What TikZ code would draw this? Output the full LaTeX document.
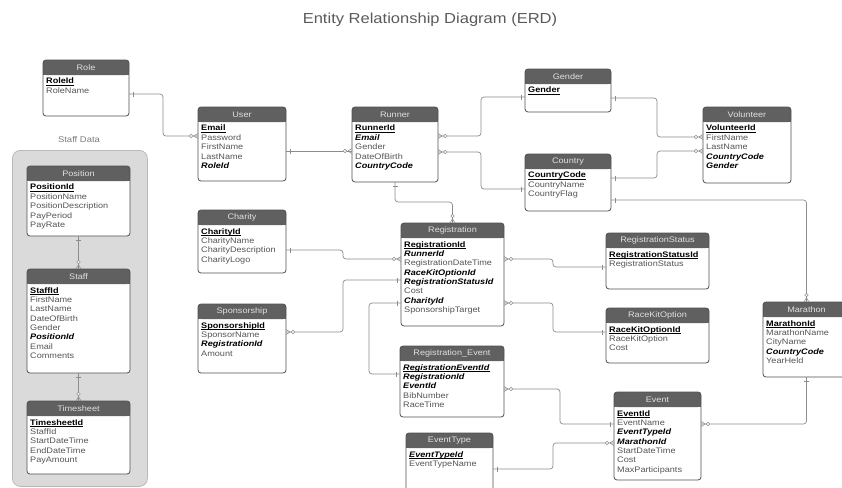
\documentclass[tikz,border=0pt]{standalone}
\usepackage{fontspec}
\setmainfont{Liberation Sans}[FakeStretch=1.14]
\usetikzlibrary{positioning}
\usetikzlibrary{calc}
\usetikzlibrary{decorations.markings}
\definecolor{hgray}{RGB}{96,96,96}
\definecolor{boxline}{RGB}{80,80,80}
\definecolor{rowtext}{RGB}{85,85,85}
\definecolor{headtxt}{RGB}{225,225,225}
\definecolor{lgray}{RGB}{140,140,140}
\definecolor{groupfill}{RGB}{218,218,218}
\definecolor{groupline}{RGB}{185,185,185}
\definecolor{titlegray}{RGB}{90,90,90}
\newsavebox{\keybox}
\newcommand{\keyline}[1]{\sbox{\keybox}{#1}\rlap{\rule[-1.6pt]{\wd\keybox}{0.6pt}}\usebox{\keybox}}
\newcommand{\pkey}[1]{{\color{black}\keyline{\textbf{#1}}}}
\newcommand{\fkey}[1]{{\color{black}\textbf{\textit{#1}}}}
\newcommand{\pfkey}[1]{{\color{black}\keyline{\textbf{\textit{#1}}}}}
\tikzset{
  entity/.style={anchor=north west, inner sep=0pt, outer sep=0pt, fill=white, rounded corners=3pt},
  headtext/.style={inner sep=0pt, text=headtxt, font=\fontsize{8}{9}\selectfont},
  attrs/.style={anchor=north west, inner sep=0pt, align=left, text=rowtext, font=\fontsize{8}{9.35}\selectfont},
  rel/.style={draw=lgray, line width=0.7pt, rounded corners=3pt},
  onebeg/.style={postaction={decorate, decoration={markings,
    mark=at position 4pt with {\draw[lgray, line width=0.7pt] (0pt,-2.5pt) -- (0pt,2.5pt);}}}},
  oneend/.style={postaction={decorate, decoration={markings,
    mark=at position -4pt with {\draw[lgray, line width=0.7pt] (0pt,-2.5pt) -- (0pt,2.5pt);}}}},
  manybeg/.style={postaction={decorate, decoration={markings,
    mark=at position 0.1pt with {\draw[lgray, line width=0.6pt] (4pt,0pt) -- (0pt,2.5pt) (4pt,0pt) -- (0pt,-2.5pt);},
    mark=at position 7pt with {\draw[lgray, line width=0.6pt, fill=white] (0pt,0pt) circle (1.8pt);}}}},
  manyend/.style={postaction={decorate, decoration={markings,
    mark=at position -0.1pt with {\draw[lgray, line width=0.6pt] (-4pt,0pt) -- (0pt,2.5pt) (-4pt,0pt) -- (0pt,-2.5pt);},
    mark=at position -7pt with {\draw[lgray, line width=0.6pt, fill=white] (0pt,0pt) circle (1.8pt);}}}},
}
% one table: name, x, y, width, height, title, rows
\newcommand{\erdentity}[7]{%
  \node[entity, minimum width=#4pt, minimum height=#5pt] (#1) at (#2,#3) {};
  \fill[hgray, rounded corners=3pt] (#1.north west) rectangle ([yshift=-15pt]#1.north east);
  \fill[hgray] ([yshift=-8pt]#1.north west) rectangle ([yshift=-15pt]#1.north east);
  \draw[boxline, line width=0.8pt, rounded corners=3pt] (#1.north west) rectangle (#1.south east);
  \node[headtext] (#1-head) at ([yshift=-7.5pt]#1.north) {#6};
  \node[attrs] (#1-attrs) at ([xshift=3pt,yshift=-18pt]#1.north west) {#7};
}

\begin{document}
\begin{tikzpicture}[x=1pt, y=-1pt,
    group/.style={draw=groupline, fill=groupfill, line width=0.8pt, rounded corners=8pt, anchor=north west, inner sep=0pt},
    grouplabel/.style={text=titlegray!80, font=\fontsize{8.3}{10}\selectfont},
]
\useasboundingbox (0,0) rectangle (842,487);

\node[text=titlegray, font=\fontsize{14.5}{17}\selectfont] (title) at (430,20) {Entity Relationship Diagram (ERD)};

% staff data group
\node[group, minimum width=135pt, minimum height=336pt] (staffdata) at (12,150) {};
\node[grouplabel] (staffdata-label) at (79,140) {Staff Data};

\erdentity{role}{43}{60}{86}{56}{Role}{\pkey{RoleId}\\RoleName}
\erdentity{user}{198}{107}{88}{74}{User}{\pkey{Email}\\Password\\FirstName\\LastName\\\fkey{RoleId}}
\erdentity{runner}{352}{107}{86}{75}{Runner}{\pkey{RunnerId}\\\fkey{Email}\\Gender\\DateOfBirth\\\fkey{CountryCode}}
\erdentity{gender}{525}{69}{86}{43}{Gender}{\pkey{Gender}}
\erdentity{country}{525}{154}{86}{57}{Country}{\pkey{CountryCode}\\CountryName\\CountryFlag}
\erdentity{volunteer}{703}{107}{88}{76}{Volunteer}{\pkey{VolunteerId}\\FirstName\\LastName\\\fkey{CountryCode}\\\fkey{Gender}}
\erdentity{position}{27}{166}{103}{70}{Position}{\pkey{PositionId}\\PositionName\\PositionDescription\\PayPeriod\\PayRate}
\erdentity{staff}{27}{269}{103}{104}{Staff}{\pkey{StaffId}\\FirstName\\LastName\\DateOfBirth\\Gender\\\fkey{PositionId}\\Email\\Comments}
\erdentity{timesheet}{27}{401}{103}{73}{Timesheet}{\pkey{TimesheetId}\\StaffId\\StartDateTime\\EndDateTime\\PayAmount}
\erdentity{charity}{198}{210}{88}{63}{Charity}{\pkey{CharityId}\\CharityName\\CharityDescription\\CharityLogo}
\erdentity{sponsorship}{198}{304}{88}{69}{Sponsorship}{\pkey{SponsorshipId}\\SponsorName\\\fkey{RegistrationId}\\Amount}
\erdentity{registration}{401}{223}{103}{103}{Registration}{\pkey{RegistrationId}\\\fkey{RunnerId}\\RegistrationDateTime\\\fkey{RaceKitOptionId}\\\fkey{RegistrationStatusId}\\Cost\\\fkey{CharityId}\\SponsorshipTarget}
\erdentity{regstatus}{606}{233}{103}{56}{RegistrationStatus}{\pkey{RegistrationStatusId}\\RegistrationStatus}
\erdentity{racekit}{606}{308}{103}{55}{RaceKitOption}{\pkey{RaceKitOptionId}\\RaceKitOption\\Cost}
\erdentity{regevent}{400}{346}{104}{71}{Registration\_Event}{\pfkey{RegistrationEventId}\\\fkey{RegistrationId}\\\fkey{EventId}\\BibNumber\\RaceTime}
\erdentity{event}{614}{392}{87}{88}{Event}{\pkey{EventId}\\EventName\\\fkey{EventTypeId}\\\fkey{MarathonId}\\StartDateTime\\Cost\\MaxParticipants}
\erdentity{eventtype}{406}{433}{87}{62}{EventType}{\pfkey{EventTypeId}\\EventTypeName}
\erdentity{marathon}{763}{302}{87}{75}{Marathon}{\pkey{MarathonId}\\MarathonName\\CityName\\\fkey{CountryCode}\\YearHeld}

% relationships
\draw[rel, onebeg, manyend] ([yshift=-34pt]role.north east) -- ++(34,0) |- ([yshift=-29pt]user.north west);
\draw[rel, onebeg, manyend] ([yshift=-44pt]user.north east) -- ([yshift=-44pt]runner.north west);
\draw[rel, manybeg, oneend] ([yshift=-29pt]runner.north east) -- ++(43,0) |- ([yshift=-28pt]gender.north west);
\draw[rel, manybeg, oneend] ([yshift=-45pt]runner.north east) -- ++(43,0) |- ([yshift=-35pt]country.north west);
\draw[rel, onebeg, manyend] ([yshift=-29pt]gender.north east) -- ++(46,0) |- ([yshift=-30pt]volunteer.north west);
\draw[rel, onebeg, manyend] ([yshift=-24pt]country.north east) -- ++(46,0) |- ([yshift=-44pt]volunteer.north west);
\draw[rel, onebeg, manyend] ([yshift=-46pt]country.north east) -| (marathon.north);
\draw[rel, onebeg, manyend] (runner.south) -- ++(0,20) -| (registration.north);
\draw[rel, onebeg, manyend] ([yshift=-40pt]charity.north east) -- ++(57,0) |- ([yshift=-36pt]registration.north west);
\draw[rel, manybeg, oneend] ([yshift=-28pt]sponsorship.north east) -- ++(57,0) |- ([yshift=-57pt]registration.north west);
\draw[rel, onebeg, oneend] ([yshift=-80pt]registration.north west) -- ++(-32,0) |- ([yshift=-28pt]regevent.north west);
\draw[rel, manybeg, oneend] ([yshift=-36pt]registration.north east) -- ++(49,0) |- ([yshift=-34pt]regstatus.north west);
\draw[rel, manybeg, oneend] ([yshift=-80pt]registration.north east) -- ++(49,0) |- ([yshift=-24pt]racekit.north west);
\draw[rel, manybeg, oneend] ([yshift=-43pt]regevent.north east) -- ++(56,0) |- ([yshift=-32pt]event.north west);
\draw[rel, onebeg, manyend] ([yshift=-36pt]eventtype.north east) -- ++(60,0) |- ([yshift=-51pt]event.north west);
\draw[rel, manybeg, oneend] ([yshift=-32pt]event.north east) -| (marathon.south);
\draw[rel, onebeg, manyend] (position.south) -- (staff.north);
\draw[rel, onebeg, manyend] (staff.south) -- (timesheet.north);
\end{tikzpicture}
\end{document}
